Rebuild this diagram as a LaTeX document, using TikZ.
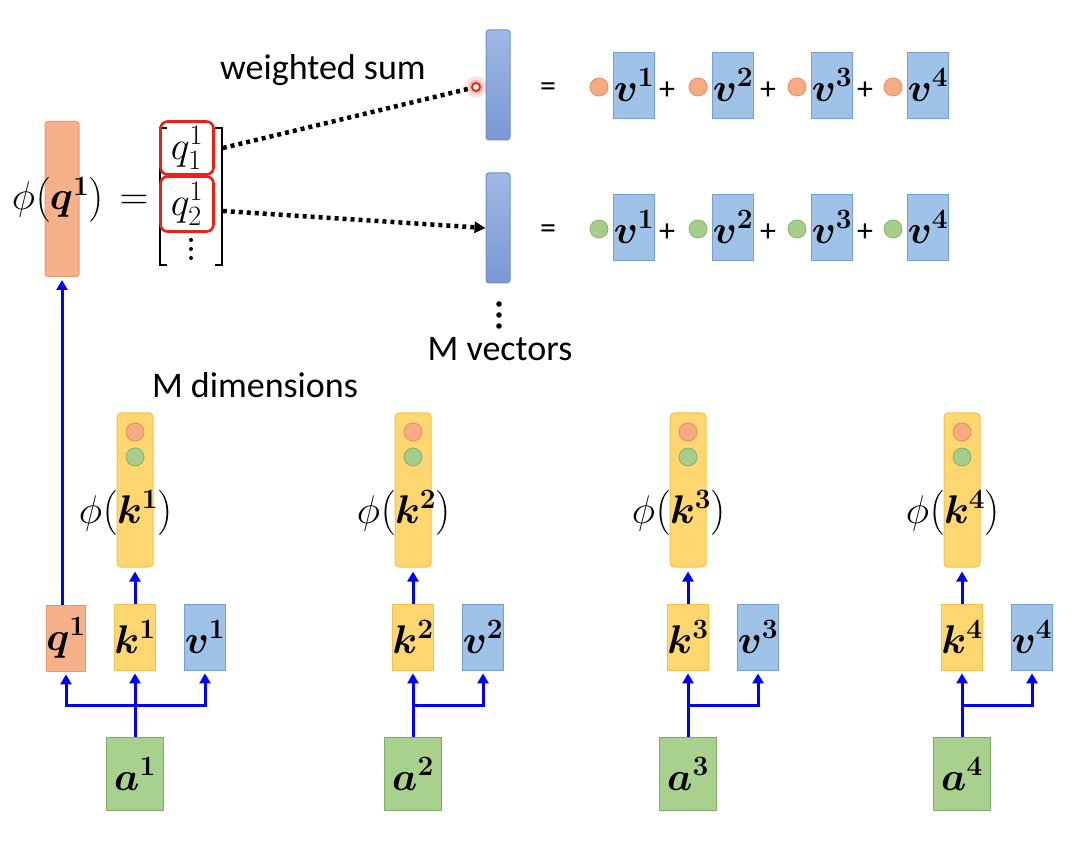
\documentclass[tikz,border=0pt]{standalone}
\usepackage{fix-cm}
\usepackage{amsmath}
\usepackage{bm}
\usepackage[no-math]{fontspec}
\setmainfont{Carlito}
\usetikzlibrary{arrows.meta}

\definecolor{qfill}{RGB}{246,176,138}
\definecolor{qline}{RGB}{238,150,110}
\definecolor{kfill}{RGB}{255,214,112}
\definecolor{kline}{RGB}{246,194,66}
\definecolor{vfill}{RGB}{158,194,232}
\definecolor{vline}{RGB}{118,158,208}
\definecolor{btop}{RGB}{160,184,228}
\definecolor{bbot}{RGB}{122,152,214}
\definecolor{bline}{RGB}{110,140,200}
\definecolor{afill}{RGB}{169,209,142}
\definecolor{aline}{RGB}{128,172,104}
\definecolor{ofill}{RGB}{245,172,132}
\definecolor{oline}{RGB}{236,140,94}
\definecolor{gfill}{RGB}{166,205,140}
\definecolor{gline}{RGB}{132,180,108}
\definecolor{selred}{RGB}{240,30,20}
\definecolor{flow}{RGB}{0,0,255}

\begin{document}
\begin{tikzpicture}[x=1pt,y=-1pt,
    every node/.style={inner sep=0pt},
    lbl/.style={font=\fontsize{36}{40}\selectfont},
    mathtxt/.style={font=\fontsize{40}{44}\selectfont},
    optxt/.style={font=\fontsize{32}{36}\selectfont},
    qbar/.style={fill=qfill, draw=qline, line width=1pt, rounded corners=3pt,
        minimum width=34, minimum height=155},
    kbar/.style={fill=kfill, draw=kline, line width=1pt, rounded corners=4pt,
        minimum width=36, minimum height=154},
    sumbar/.style={shade, top color=btop, bottom color=bbot, draw=bline, line width=1pt,
        rounded corners=3pt, minimum width=24, minimum height=110},
    cell/.style={line width=0.8pt, minimum width=36, minimum height=66, mathtxt},
    qcell/.style={cell, fill=qfill, draw=qline},
    kcell/.style={cell, fill=kfill, draw=kline},
    vcell/.style={cell, fill=vfill, draw=vline, minimum width=34},
    acell/.style={cell, fill=afill, draw=aline, minimum width=57, minimum height=73},
    ocirc/.style={circle, fill=ofill, draw=oline, line width=0.8pt, minimum size=18},
    gcirc/.style={circle, fill=gfill, draw=gline, line width=0.8pt, minimum size=18},
    qsel/.style={draw=selred, line width=2.6pt, rounded corners=7pt, minimum width=53,
        font=\fontsize{40}{44}\selectfont},
    brk/.style={line width=1.8pt},
    dots/.style={line width=4.5pt, dash pattern=on 4pt off 4pt},
    wire/.style={flow, line width=3pt},
    arrow/.style={wire, -{Triangle[length=10pt,width=11pt]}, shorten >=3pt}
]
    % phi(q^1) and its entries
    \node[qbar] (phiq) at (62,199) {};
    \node[mathtxt] (phiqlab) at (58,200) {$\phi\bigl(\bm q^{\bm 1}\bigr)$};
    \node[mathtxt] (eqq) at (134,202) {$=$};
    \draw[brk] (167,128) -- (160,128) -- (160,265) -- (167,265);
    \draw[brk] (215,128) -- (222,128) -- (222,265) -- (215,265);
    \node[qsel, minimum height=53] (q11) at (187,148) {$q^1_1$};
    \node[qsel, minimum height=55] (q21) at (187,204) {$q^1_2$};
    \foreach \d in {240,249,258}
        \fill (191,\d) circle (2);

    % the M vectors
    \node[sumbar] (bar1) at (498,85) {};
    \node[sumbar] (bar2) at (498,228) {};
    \foreach \d in {304,315,326}
        \fill (499,\d) circle (2.8);
    \node[lbl] (mvec) at (500,349) {M vectors};
    \node[lbl] (wsum) at (323,70) {weighted sum};
    \node[lbl] (mdim) at (255,385) {M dimensions};

    % red dot with glow
    \node[circle, fill=selred, opacity=.12, minimum size=22] (glow) at (476,87) {};
    \node[circle, fill=selred, opacity=.22, minimum size=14] at (476,87) {};
    \node[circle, fill=white, draw=selred, line width=1.8pt, minimum size=8] (wdot) at (476,87) {};
    \draw[dots] ([xshift=8pt]q11.east) -- (wdot);
    \draw[dots, -{Triangle[length=11pt,width=11pt]}] ([xshift=8pt,yshift=-7pt]q21.east) -- (bar2.west);

    % weighted sums of v
    \foreach \r/\c/\y in {1/ocirc/87, 2/gcirc/229} {
        \node[optxt] (eq\r) at (548,\y+3) {=};
        \foreach \j/\cx in {1/599, 2/698, 3/797, 4/893} {
            \node[\c] (w\r\j) at (\cx,\y) {};
            \node[vcell] (sv\r\j) at (\cx+35,\y-2) {$\bm v^{\bm \j}$};
        }
        \foreach \px in {667, 768, 865}
            \node[optxt] at (\px,\y+4) {+};
    }

    % inputs a^i
    \foreach \i/\x in {1/135, 2/413, 3/688, 4/962} {
        \node[kbar] (phik\i) at (\x,490) {};
        \node[ocirc] (ko\i) at (\x,432) {};
        \node[gcirc] (kg\i) at (\x,457) {};
        \node[mathtxt] (phiklab\i) at (\x-9,513) {$\phi\bigl(\bm k^{\bm \i}\bigr)$};
        \node[kcell] (k\i) at (\x,637) {$\bm k^{\bm \i}$};
        \node[vcell] (v\i) at (\x+70,637) {$\bm v^{\bm \i}$};
        \node[acell] (a\i) at (\x,774) {$\bm a^{\bm \i}$};
        \coordinate (br\i) at (\x,705);
        \draw[wire] (a\i.north) -- (br\i);
        \draw[arrow] (br\i) -- (k\i.south);
        \draw[arrow] (br\i) -| (v\i.south);
        \draw[arrow, shorten >=4pt] (k\i.north) -- (phik\i.south);
    }
    \node[qcell] (q1) at (66,638) {$\bm q^{\bm 1}$};
    \draw[arrow] (br1) -| (q1.south);
    \draw[arrow] (phiq.south |- q1.north) -- (phiq.south);

    \useasboundingbox (0,0) rectangle (1080,842);
\end{tikzpicture}
\end{document}
